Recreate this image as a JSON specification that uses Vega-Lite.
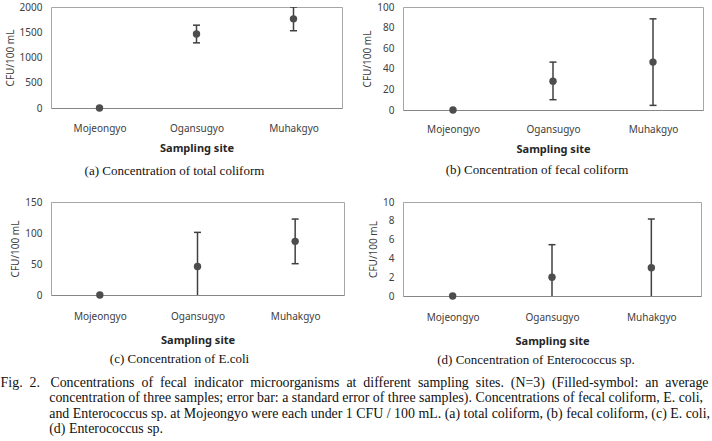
{
  "$schema": "https://vega.github.io/schema/vega-lite/v6.json",
  "padding": {"left": 0, "top": 1, "right": 0, "bottom": 0},
  "background": "white",
  "config": {
    "view": {"stroke": "#a6a6a6", "strokeWidth": 1},
    "axis": {
      "labelFont": "Noto Sans", "labelFontSize": 10, "labelColor": "#404040",
      "titleFont": "Noto Sans", "titleFontSize": 10, "titleColor": "#404040",
      "grid": false, "ticks": false
    },
    "axisX": {"domainColor": "#868686", "domainWidth": 1.2, "labelAngle": 0, "titleFontWeight": "bold", "titleFontSize": 11, "titleColor": "#262626"},
    "axisY": {"domain": false, "labelPadding": 9, "titleFontWeight": "normal", "titlePadding": 4, "labelOverlap": false, "labelFlush": false, "format": "d"},
    "title": {"font": "Liberation Serif", "fontSize": 13, "fontWeight": "normal", "color": "#111111"}
  },
  "data": {"values": [
    {"panel": "a", "site": "Mojeongyo", "mean": 0, "lo": null, "hi": null},
    {"panel": "a", "site": "Ogansugyo", "mean": 1465, "lo": 1290, "hi": 1640},
    {"panel": "a", "site": "Muhakgyo", "mean": 1765, "lo": 1530, "hi": 2000},
    {"panel": "b", "site": "Mojeongyo", "mean": 0, "lo": null, "hi": null},
    {"panel": "b", "site": "Ogansugyo", "mean": 28, "lo": 10, "hi": 46.5},
    {"panel": "b", "site": "Muhakgyo", "mean": 46.5, "lo": 4.5, "hi": 88.5},
    {"panel": "c", "site": "Mojeongyo", "mean": 0, "lo": null, "hi": null},
    {"panel": "c", "site": "Ogansugyo", "mean": 46, "lo": -9, "hi": 101},
    {"panel": "c", "site": "Muhakgyo", "mean": 86.5, "lo": 50.5, "hi": 122.5},
    {"panel": "d", "site": "Mojeongyo", "mean": 0, "lo": null, "hi": null},
    {"panel": "d", "site": "Ogansugyo", "mean": 2, "lo": -1.46, "hi": 5.46},
    {"panel": "d", "site": "Muhakgyo", "mean": 3, "lo": -2.19, "hi": 8.19}
  ]},
  "title": {
    "text": [
      "Fig.\u00a0 2.\u00a0\u00a0 Concentrations\u00a0 of\u00a0 fecal\u00a0 indicator\u00a0 microorganisms\u00a0 at\u00a0 different\u00a0 sampling\u00a0 sites.\u00a0 (N=3)\u00a0 (Filled-symbol:\u00a0 an\u00a0 average",
      "\u200b\u00a0\u00a0\u00a0\u00a0\u00a0\u00a0\u00a0\u00a0\u00a0\u00a0\u00a0\u00a0\u00a0\u00a0concentration of three samples; error bar: a standard error of three samples). Concentrations of fecal coliform, E. coli,",
      "\u200b\u00a0\u00a0\u00a0\u00a0\u00a0\u00a0\u00a0\u00a0\u00a0\u00a0\u00a0\u00a0\u00a0\u00a0and Enterococcus sp. at Mojeongyo were each under 1 CFU / 100 mL. (a) total coliform, (b) fecal coliform, (c) E. coli,",
      "\u200b\u00a0\u00a0\u00a0\u00a0\u00a0\u00a0\u00a0\u00a0\u00a0\u00a0\u00a0\u00a0\u00a0\u00a0(d) Enterococcus sp."
    ],
    "orient": "bottom", "anchor": "start", "offset": 8, "dx": -4,
    "fontSize": 13.9, "lineHeight": 15.5, "color": "#111111"
  },
  "columns": 2,
  "align": "each",
  "spacing": {"row": 17, "column": 17},
  "concat": [
    {
      "width": 291, "height": 101,
      "title": {"text": "(a) Concentration of total coliform", "orient": "bottom", "offset": 12, "dx": -22},
      "transform": [{"filter": "datum.panel === 'a'"}],
      "encoding": {"x": {"field": "site", "type": "nominal", "sort": ["Mojeongyo", "Ogansugyo", "Muhakgyo"], "scale": {"type": "point", "padding": 0.5}, "axis": {"title": "Sampling site", "labelPadding": 15, "titlePadding": 9}}},
      "layer": [
        {"mark": {"type": "rule", "clip": true, "color": "#404040", "strokeWidth": 1.5},
         "encoding": {"y": {"field": "lo", "type": "quantitative", "title": "CFU/100 mL", "scale": {"domain": [0, 2000], "nice": false}, "axis": {"values": [0, 500, 1000, 1500, 2000]}}, "y2": {"field": "hi"}}},
        {"mark": {"type": "tick", "clip": true, "color": "#404040", "size": 7, "thickness": 1.5, "opacity": 1},
         "encoding": {"y": {"field": "hi", "type": "quantitative", "title": "CFU/100 mL", "axis": {"values": [0, 500, 1000, 1500, 2000]}}}},
        {"mark": {"type": "tick", "clip": true, "color": "#404040", "size": 7, "thickness": 1.5, "opacity": 1},
         "encoding": {"y": {"field": "lo", "type": "quantitative", "title": "CFU/100 mL", "axis": {"values": [0, 500, 1000, 1500, 2000]}}}},
        {"mark": {"type": "point", "filled": true, "size": 55, "color": "#4d4d4d", "opacity": 1},
         "encoding": {"y": {"field": "mean", "type": "quantitative", "title": "CFU/100 mL", "axis": {"values": [0, 500, 1000, 1500, 2000]}}}}
      ]
    },
    {
      "width": 300, "height": 103,
      "title": {"text": "(b) Concentration of fecal coliform", "orient": "bottom", "offset": 10, "dx": -16},
      "transform": [{"filter": "datum.panel === 'b'"}],
      "encoding": {"x": {"field": "site", "type": "nominal", "sort": ["Mojeongyo", "Ogansugyo", "Muhakgyo"], "scale": {"type": "point", "padding": 0.5}, "axis": {"title": "Sampling site", "labelPadding": 14, "titlePadding": 9}}},
      "layer": [
        {"mark": {"type": "rule", "clip": true, "color": "#404040", "strokeWidth": 1.5},
         "encoding": {"y": {"field": "lo", "type": "quantitative", "title": "CFU/100 mL", "scale": {"domain": [0, 100], "nice": false}, "axis": {"values": [0, 20, 40, 60, 80, 100]}}, "y2": {"field": "hi"}}},
        {"mark": {"type": "tick", "clip": true, "color": "#404040", "size": 7, "thickness": 1.5, "opacity": 1},
         "encoding": {"y": {"field": "hi", "type": "quantitative", "title": "CFU/100 mL", "axis": {"values": [0, 20, 40, 60, 80, 100]}}}},
        {"mark": {"type": "tick", "clip": true, "color": "#404040", "size": 7, "thickness": 1.5, "opacity": 1},
         "encoding": {"y": {"field": "lo", "type": "quantitative", "title": "CFU/100 mL", "axis": {"values": [0, 20, 40, 60, 80, 100]}}}},
        {"mark": {"type": "point", "filled": true, "size": 55, "color": "#4d4d4d", "opacity": 1},
         "encoding": {"y": {"field": "mean", "type": "quantitative", "title": "CFU/100 mL", "axis": {"values": [0, 20, 40, 60, 80, 100]}}}}
      ]
    },
    {
      "width": 293, "height": 93,
      "title": {"text": "(c) Concentration of E.coli", "orient": "bottom", "offset": 8, "dx": -18},
      "transform": [{"filter": "datum.panel === 'c'"}],
      "encoding": {"x": {"field": "site", "type": "nominal", "sort": ["Mojeongyo", "Ogansugyo", "Muhakgyo"], "scale": {"type": "point", "padding": 0.5}, "axis": {"title": "Sampling site", "labelPadding": 16, "titlePadding": 13}}},
      "layer": [
        {"mark": {"type": "rule", "clip": true, "color": "#404040", "strokeWidth": 1.5},
         "encoding": {"y": {"field": "lo", "type": "quantitative", "title": "CFU/100 mL", "scale": {"domain": [0, 150], "nice": false}, "axis": {"values": [0, 50, 100, 150]}}, "y2": {"field": "hi"}}},
        {"mark": {"type": "tick", "clip": true, "color": "#404040", "size": 7, "thickness": 1.5, "opacity": 1},
         "encoding": {"y": {"field": "hi", "type": "quantitative", "title": "CFU/100 mL", "axis": {"values": [0, 50, 100, 150]}}}},
        {"mark": {"type": "tick", "clip": true, "color": "#404040", "size": 7, "thickness": 1.5, "opacity": 1},
         "encoding": {"y": {"field": "lo", "type": "quantitative", "title": "CFU/100 mL", "axis": {"values": [0, 50, 100, 150]}}}},
        {"mark": {"type": "point", "filled": true, "size": 55, "color": "#4d4d4d", "opacity": 1},
         "encoding": {"y": {"field": "mean", "type": "quantitative", "title": "CFU/100 mL", "axis": {"values": [0, 50, 100, 150]}}}}
      ]
    },
    {
      "width": 298, "height": 94,
      "title": {"text": "(d) Concentration of Enterococcus sp.", "orient": "bottom", "offset": 8, "dx": -16},
      "transform": [{"filter": "datum.panel === 'd'"}],
      "encoding": {"x": {"field": "site", "type": "nominal", "sort": ["Mojeongyo", "Ogansugyo", "Muhakgyo"], "scale": {"type": "point", "padding": 0.5}, "axis": {"title": "Sampling site", "labelPadding": 16, "titlePadding": 13}}},
      "layer": [
        {"mark": {"type": "rule", "clip": true, "color": "#404040", "strokeWidth": 1.5},
         "encoding": {"y": {"field": "lo", "type": "quantitative", "title": "CFU/100 mL", "scale": {"domain": [0, 10], "nice": false}, "axis": {"values": [0, 2, 4, 6, 8, 10]}}, "y2": {"field": "hi"}}},
        {"mark": {"type": "tick", "clip": true, "color": "#404040", "size": 7, "thickness": 1.5, "opacity": 1},
         "encoding": {"y": {"field": "hi", "type": "quantitative", "title": "CFU/100 mL", "axis": {"values": [0, 2, 4, 6, 8, 10]}}}},
        {"mark": {"type": "tick", "clip": true, "color": "#404040", "size": 7, "thickness": 1.5, "opacity": 1},
         "encoding": {"y": {"field": "lo", "type": "quantitative", "title": "CFU/100 mL", "axis": {"values": [0, 2, 4, 6, 8, 10]}}}},
        {"mark": {"type": "point", "filled": true, "size": 55, "color": "#4d4d4d", "opacity": 1},
         "encoding": {"y": {"field": "mean", "type": "quantitative", "title": "CFU/100 mL", "axis": {"values": [0, 2, 4, 6, 8, 10]}}}}
      ]
    }
  ]
}
